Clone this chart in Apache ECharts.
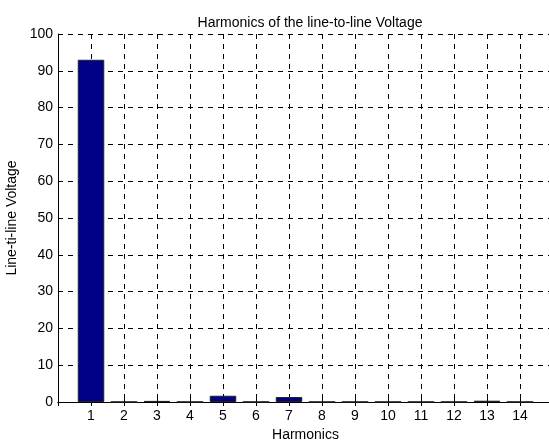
<!DOCTYPE html>
<html>
<head>
<meta charset="utf-8">
<script src="https://cdn.jsdelivr.net/npm/echarts@6/dist/echarts.min.js"></script>
<style>
html,body{margin:0;padding:0;background:#fff;}
#c{width:549px;height:440px;}
</style>
</head>
<body>
<div id="c"></div>
<script>
var harmonics = [1,2,3,4,5,6,7,8,9,10,11,12,13,14];
var voltages = [93, 0.05, 0.3, 0.05, 1.7, 0.05, 1.35, 0.05, 0.05, 0.05, 0.05, 0.05, 0.35, 0.05];
var yTicks = [0,10,20,30,40,50,60,70,80,90,100];

var font = 'Liberation Sans, Arial, sans-serif';
var chart = echarts.init(document.getElementById('c'), null, {renderer:'canvas'});
var dash = {color:'#000', width:1, type:[5,5]};
chart.setOption({
  animation:false,
  backgroundColor:'#fff',
  title:{
    text:'Harmonics of the line-to-line Voltage',
    left:305, top:11, textAlign:'center',
    textStyle:{fontFamily:font, fontSize:14, fontWeight:'normal', color:'#000'}
  },
  grid:{left:58, top:34, width:495, bottom:38, outerBoundsMode:'none', containLabel:false},
  xAxis:[{
    type:'value', min:0, max:15, interval:1,
    name:'Harmonics', nameLocation:'middle', nameGap:23,
    nameTextStyle:{fontFamily:font, fontSize:14, color:'#000'},
    axisLine:{show:true, onZero:false, lineStyle:{color:'#000', width:1}},
    axisTick:{show:true, inside:true, length:4, lineStyle:{color:'#000'}},
    axisLabel:{fontFamily:font, fontSize:14, color:'#000', margin:7,
      formatter:function(v){ return harmonics.indexOf(v) >= 0 ? String(v) : ''; }},
    splitLine:{show:true, lineStyle:dash}
  },{
    type:'value', min:0, max:15, interval:1, position:'top',
    axisLine:{show:true, lineStyle:{color:'#000', width:1}},
    axisTick:{show:true, inside:true, length:4, lineStyle:{color:'#000'}},
    axisLabel:{show:false}, splitLine:{show:false}
  }],
  yAxis:{
    type:'value', min:0, max:100, interval:10,
    name:'Line-ti-line Voltage', nameLocation:'middle', nameGap:36,
    nameTextStyle:{fontFamily:font, fontSize:14, color:'#000'},
    axisLine:{show:true, lineStyle:{color:'#000', width:1}},
    axisTick:{show:true, inside:true, length:4, lineStyle:{color:'#000'}},
    axisLabel:{fontFamily:font, fontSize:14, color:'#000', margin:5,
      formatter:function(v){ return yTicks.indexOf(v) >= 0 ? String(v) : ''; }},
    splitLine:{show:true, lineStyle:dash}
  },
  series:[{
    type:'bar', xAxisIndex:0,
    data: harmonics.map(function(h,i){ return [h, voltages[i]]; }),
    barWidth:26.5,
    itemStyle:{color:'#000088', borderColor:'#222', borderWidth:1},
    z:1
  }]
});
</script>
</body>
</html>
